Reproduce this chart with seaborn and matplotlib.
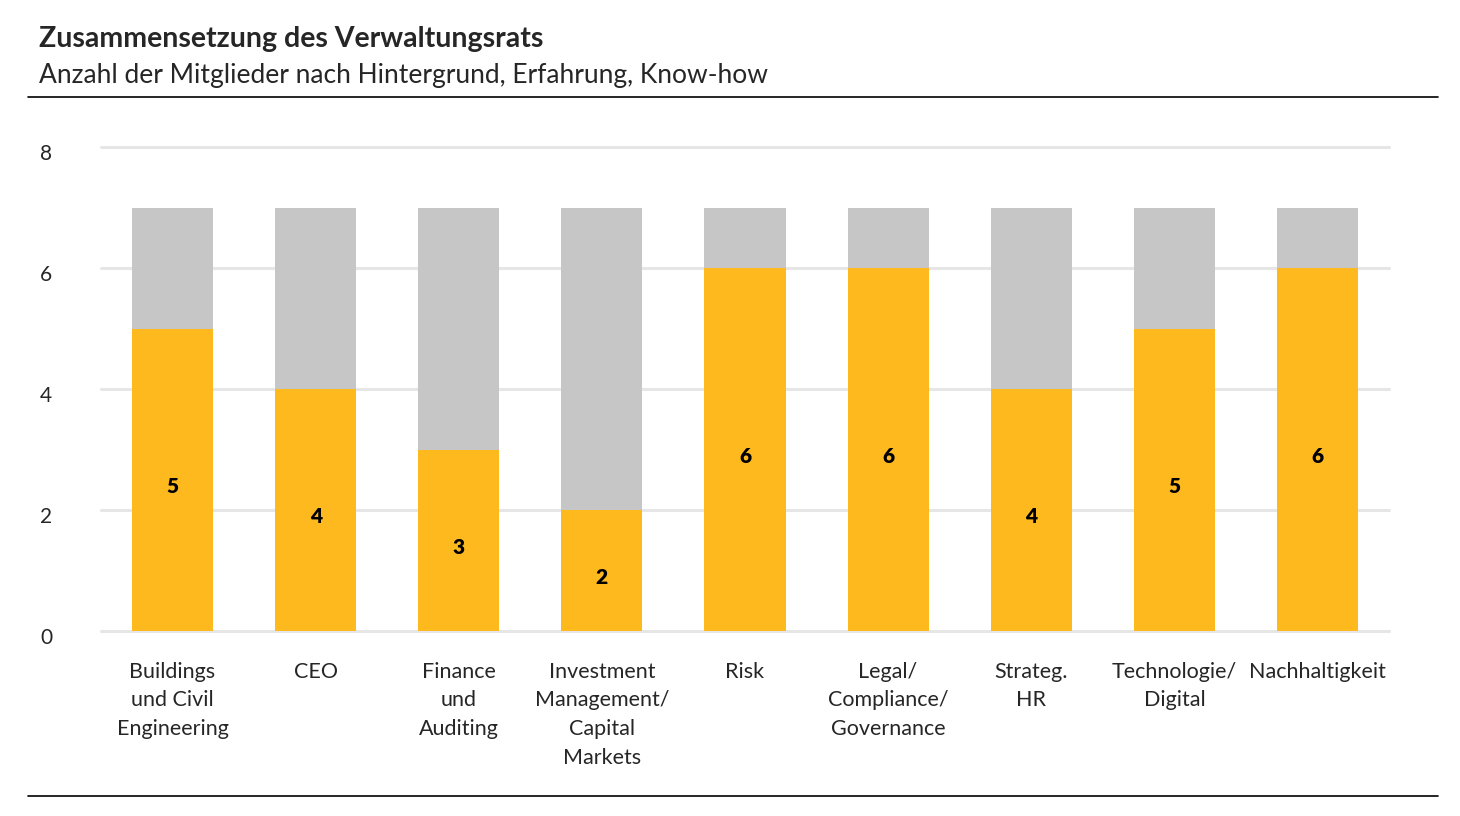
import matplotlib
matplotlib.use("Agg")
import matplotlib.pyplot as plt
import matplotlib.transforms as mtransforms
import seaborn as sns
import pandas as pd
from matplotlib.lines import Line2D

categories = ["Buildings\nund Civil\nEngineering", "CEO", "Finance\nund\nAuditing",
              "Investment\nManagement/\nCapital\nMarkets", "Risk", "Legal/\nCompliance/\nGovernance",
              "Strateg.\nHR", "Technologie/\nDigital", "Nachhaltigkeit"]
yes_values = [5, 4, 3, 2, 6, 6, 4, 5, 6]
total_members = [7, 7, 7, 7, 7, 7, 7, 7, 7]
y_ticks = [0, 2, 4, 6, 8]

title = "Zusammensetzung des Verwaltungsrats"
subtitle = "Anzahl der Mitglieder nach Hintergrund, Erfahrung, Know-how"

YELLOW = "#FDB91E"
GRAY = "#C6C6C6"

sns.set_theme(style="white")
plt.rcParams["font.family"] = ["Lato", "DejaVu Sans"]

df = pd.DataFrame({"cat": categories, "yes": yes_values, "total": total_members})

fig = plt.figure(figsize=(14.6, 8.16), dpi=100)
ax = fig.add_axes([101 / 1460, 1 - 631 / 816, 1288 / 1460, 484 / 816])

sns.barplot(data=df, x="cat", y="total", color=GRAY, width=0.566, ax=ax,
            saturation=1, edgecolor="none", linewidth=0)
sns.barplot(data=df, x="cat", y="yes", color=YELLOW, width=0.566, ax=ax,
            saturation=1, edgecolor="none", linewidth=0)

ax.set_ylim(0, 8)
ax.set_xlim(-0.5, len(categories) - 0.5)
ax.set_yticks(y_ticks)
ax.set_yticklabels([str(t) for t in y_ticks], fontsize=15)
ax.yaxis.grid(True, color="#E6E6E6", linewidth=2.2)
ax.set_axisbelow(True)
for gl in ax.get_ygridlines():
    gl.set_clip_on(False)
ax.tick_params(axis="y", length=0, pad=44)
ax.tick_params(axis="x", length=0, pad=22)
ax.set_xticks(range(len(categories)))
ax.set_xticklabels(categories, fontsize=15.5, linespacing=1.55, va="top", ha="center")
offset = mtransforms.ScaledTranslation(0, -5 / 100, fig.dpi_scale_trans)
for lbl in ax.get_yticklabels():
    lbl.set_horizontalalignment("left")
    lbl.set_transform(lbl.get_transform() + offset)
ax.set_xlabel("")
ax.set_ylabel("")
for s in ax.spines.values():
    s.set_visible(False)

for i, v in enumerate(yes_values):
    ax.annotate(str(v), xy=(i, v / 2), xytext=(0, -5), textcoords="offset points",
                ha="center", va="center", fontsize=15, fontweight="heavy", color="black")

fig.text(39 / 1460, 1 - 39 / 816, title, fontsize=20.5, fontweight="bold", va="center", ha="left")
fig.text(39 / 1460, 1 - 75 / 816, subtitle, fontsize=19, va="center", ha="left")

fig.add_artist(Line2D([28 / 1460, 1438 / 1460], [1 - 96.5 / 816, 1 - 96.5 / 816],
                      color="black", linewidth=1.2, transform=fig.transFigure))
fig.add_artist(Line2D([28 / 1460, 1438 / 1460], [1 - 795.5 / 816, 1 - 795.5 / 816],
                      color="black", linewidth=1.2, transform=fig.transFigure))

fig.savefig("out.png", dpi=100, facecolor="white")
